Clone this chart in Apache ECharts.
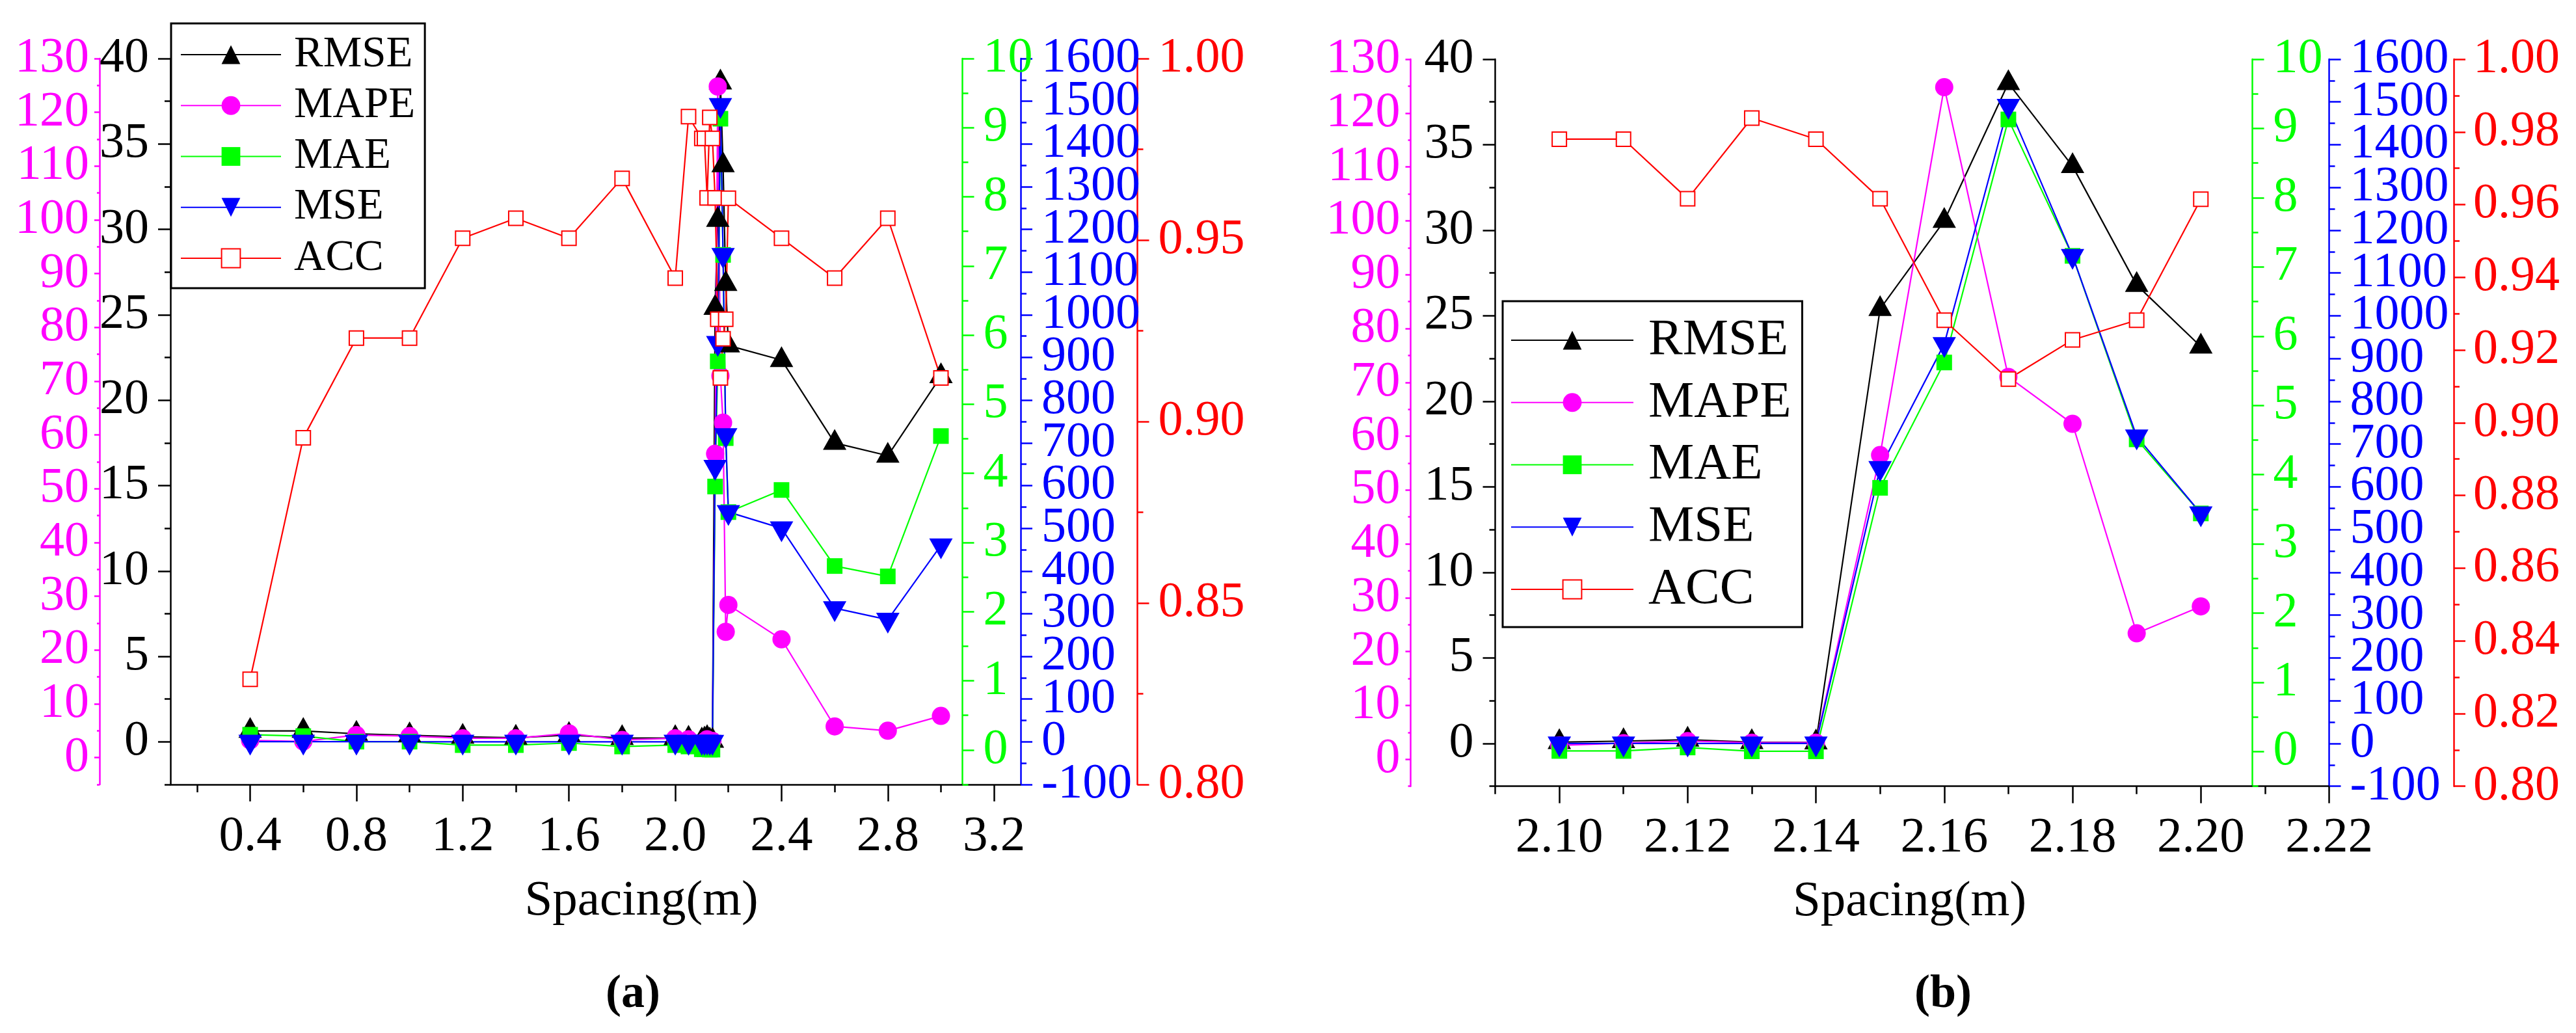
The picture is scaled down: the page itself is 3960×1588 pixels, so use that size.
<!DOCTYPE html>
<html>
<head>
<meta charset="utf-8">
<script src="https://cdn.jsdelivr.net/npm/echarts@6/dist/echarts.min.js"></script>
<style>html,body{margin:0;padding:0;background:#fff}#c{width:3960px;height:1588px}</style>
</head>
<body>
<div id="c"></div>
<script>
// ---------------- DATA ----------------
// Panel (a)
const spacingA = [0.4, 0.6, 0.8, 1.0, 1.2, 1.4, 1.6, 1.8, 2.0, 2.05, 2.10, 2.11, 2.12, 2.13, 2.14, 2.15, 2.16, 2.17, 2.18, 2.19, 2.20, 2.4, 2.6, 2.8, 3.0];
const rmseA = [0.64, 0.64, 0.47, 0.38, 0.30, 0.24, 0.40, 0.22, 0.22, 0.18, 0.08, 0.14, 0.22, 0.08, 0.06, 25.4, 30.55, 38.6, 33.75, 26.8, 23.2, 22.35, 17.5, 16.75, 21.4];
const mapeA = [3.2, 3.0, 4.2, 4.0, 3.6, 3.6, 4.5, 3.3, 3.6, 3.4, 2.6, 3.0, 3.4, 3.1, 3.1, 56.5, 124.8, 71.0, 62.3, 23.4, 28.4, 22.0, 5.8, 5.0, 7.75];
const maeA = [0.22, 0.20, 0.12, 0.12, 0.07, 0.07, 0.10, 0.05, 0.07, 0.05, 0.01, 0.01, 0.06, 0.005, 0.005, 3.81, 5.62, 9.13, 7.16, 4.51, 3.44, 3.76, 2.66, 2.51, 4.54];
const mseA = [0.41, 0.41, 0.22, 0.14, 0.09, 0.06, 0.16, 0.05, 0.05, 0.03, 0.006, 0.02, 0.05, 0.006, 0.004, 644, 934, 1491, 1140, 718, 538, 500, 313, 286, 460];
const accA = [0.829, 0.8955, 0.923, 0.923, 0.9505, 0.956, 0.9505, 0.967, 0.9395, 0.984, 0.978, 0.978, 0.9616, 0.9838, 0.978, 0.9616, 0.9282, 0.912, 0.9228, 0.9282, 0.9615, 0.9505, 0.9395, 0.956, 0.912];

// Panel (b)
const spacingB = [2.10, 2.11, 2.12, 2.13, 2.14, 2.15, 2.16, 2.17, 2.18, 2.19, 2.20];
const rmseB = [0.08, 0.14, 0.22, 0.08, 0.06, 25.4, 30.55, 38.6, 33.75, 26.8, 23.2];
const mapeB = [2.6, 3.0, 3.4, 3.1, 3.1, 56.5, 124.8, 71.0, 62.3, 23.4, 28.4];
const maeB = [0.01, 0.01, 0.06, 0.005, 0.005, 3.81, 5.62, 9.13, 7.16, 4.51, 3.44];
const mseB = [0.006, 0.02, 0.05, 0.006, 0.004, 644, 934, 1491, 1140, 718, 538];
const accB = [0.978, 0.978, 0.9616, 0.9838, 0.978, 0.9616, 0.9282, 0.912, 0.9228, 0.9282, 0.9615];

const seriesNames = ['RMSE', 'MAPE', 'MAE', 'MSE', 'ACC'];

// Tick values
const xTicksA = [0.4, 0.8, 1.2, 1.6, 2.0, 2.4, 2.8, 3.2];
const xMinorA = [0.2, 0.6, 1.0, 1.4, 1.8, 2.2, 2.6, 3.0];
const xTicksB = [2.10, 2.12, 2.14, 2.16, 2.18, 2.20, 2.22];
const xMinorB = [2.09, 2.11, 2.13, 2.15, 2.17, 2.19, 2.21];
const rmseTicks = [0, 5, 10, 15, 20, 25, 30, 35, 40];
const rmseMinor = [-2.5, 2.5, 7.5, 12.5, 17.5, 22.5, 27.5, 32.5, 37.5];
const mapeTicks = [0, 10, 20, 30, 40, 50, 60, 70, 80, 90, 100, 110, 120, 130];
const mapeMinor = [-5, 5, 15, 25, 35, 45, 55, 65, 75, 85, 95, 105, 115, 125];
const maeTicks = [0, 1, 2, 3, 4, 5, 6, 7, 8, 9, 10];
const maeMinor = [-0.5, 0.5, 1.5, 2.5, 3.5, 4.5, 5.5, 6.5, 7.5, 8.5, 9.5];
const mseTicks = [-100, 0, 100, 200, 300, 400, 500, 600, 700, 800, 900, 1000, 1100, 1200, 1300, 1400, 1500, 1600];
const mseMinor = [-50, 50, 150, 250, 350, 450, 550, 650, 750, 850, 950, 1050, 1150, 1250, 1350, 1450, 1550];
const accTicksA = [0.80, 0.85, 0.90, 0.95, 1.00];
const accMinorA = [0.825, 0.875, 0.925, 0.975];
const accTicksB = [0.80, 0.82, 0.84, 0.86, 0.88, 0.90, 0.92, 0.94, 0.96, 0.98, 1.00];
const accMinorB = [0.81, 0.83, 0.85, 0.87, 0.89, 0.91, 0.93, 0.95, 0.97, 0.99];

// ---------------- STYLE / LAYOUT ----------------
const FONT = 'Liberation Serif';
const C = { black: '#000000', pink: '#FF00FF', green: '#00FF00', blue: '#0000FF', red: '#FF0000' };
const AXW = 2.5;

const xAxes = [];
function addX(grid, min, max, majors, minors, fmt) {
  const idx = xAxes.length;
  xAxes.push({
    type: 'value', gridIndex: grid, position: 'bottom', min: min, max: max,
    axisLine: { show: true, onZero: false, lineStyle: { color: C.black, width: AXW } },
    axisTick: { show: true, inside: false, length: 26, customValues: majors, lineStyle: { color: C.black, width: AXW } },
    axisLabel: { show: true, customValues: majors, showMinLabel: true, showMaxLabel: true, hideOverlap: false,
      margin: 42, color: C.black, fontFamily: FONT, fontSize: 77, lineHeight: 77, formatter: fmt },
    splitLine: { show: false }, minorTick: { show: false }, minorSplitLine: { show: false }
  });
  xAxes.push({
    type: 'value', gridIndex: grid, position: 'bottom', min: min, max: max,
    axisLine: { show: false, onZero: false },
    axisTick: { show: true, inside: false, length: 12, customValues: minors, lineStyle: { color: C.black, width: AXW } },
    axisLabel: { show: false }, splitLine: { show: false }
  });
  return idx;
}

// Each y scale uses two stacked axes (same position): one draws the axis line,
// long ticks and every other label; the other draws short ticks and the
// remaining labels (so the dense labels are never auto-hidden).
const yAxes = [];
function addY(grid, pos, offset, min, max, majors, minors, color, fmt, len, mlen, margin) {
  const idx = yAxes.length;
  const labA = majors.filter((v, i) => i % 2 === 0);
  const labB = majors.filter((v, i) => i % 2 === 1);
  const lab = (vals) => ({ show: true, customValues: vals, showMinLabel: true, showMaxLabel: true, hideOverlap: false,
    margin: margin, color: color, fontFamily: FONT, fontSize: 76, lineHeight: 76, formatter: fmt });
  yAxes.push({
    type: 'value', gridIndex: grid, position: pos, offset: offset, min: min, max: max,
    axisLine: { show: true, onZero: false, lineStyle: { color: color, width: AXW } },
    axisTick: { show: true, inside: false, length: len, customValues: majors, lineStyle: { color: color, width: AXW } },
    axisLabel: lab(labA),
    splitLine: { show: false }, minorTick: { show: false }, minorSplitLine: { show: false }
  });
  yAxes.push({
    type: 'value', gridIndex: grid, position: pos, offset: offset, min: min, max: max,
    axisLine: { show: false, onZero: false },
    axisTick: { show: true, inside: false, length: mlen, customValues: minors, lineStyle: { color: color, width: AXW } },
    axisLabel: lab(labB), splitLine: { show: false }
  });
  return idx;
}

const f0 = v => String(Math.round(v));
const f1 = v => v.toFixed(1);
const f2 = v => v.toFixed(2);

// Panel (a) axes
const xa = addX(0, 0.1, 3.3, xTicksA, xMinorA, f1);
const ya = {
  rmse: addY(0, 'left', 0, -2.5, 40, rmseTicks, rmseMinor, C.black, f0, 19, 9, 33),
  mape: addY(0, 'left', 109, -5, 130, mapeTicks, mapeMinor, C.pink, f0, 8, 4, 16),
  mae: addY(0, 'right', -89.5, -0.5, 10, maeTicks, maeMinor, C.green, f0, 18, 9, 32),
  mse: addY(0, 'right', 0, -100, 1600, mseTicks, mseMinor, C.blue, f0, 18, 9, 32),
  acc: addY(0, 'right', 179.5, 0.8, 1.0, accTicksA, accMinorA, C.red, f2, 18, 9, 32)
};
// Panel (b) axes
const xb = addX(1, 2.09, 2.22, xTicksB, xMinorB, f2);
const yb = {
  rmse: addY(1, 'left', 0, -2.5, 40, rmseTicks, rmseMinor, C.black, f0, 19, 9, 33),
  mape: addY(1, 'left', 130, -5, 130, mapeTicks, mapeMinor, C.pink, f0, 8, 4, 16),
  mae: addY(1, 'right', -118, -0.5, 10, maeTicks, maeMinor, C.green, f0, 18, 9, 32),
  mse: addY(1, 'right', 0, -100, 1600, mseTicks, mseMinor, C.blue, f0, 18, 9, 32),
  acc: addY(1, 'right', 191.5, 0.8, 1.0, accTicksB, accMinorB, C.red, f2, 18, 9, 30)
};

const marks = {
  RMSE: { symbol: 'triangle', symbolSize: [36, 32], symbolOffset: [0, -5.3], symbolRotate: 0, color: C.black },
  MAPE: { symbol: 'circle', symbolSize: 28, symbolOffset: [0, 0], symbolRotate: 0, color: C.pink },
  MAE: { symbol: 'rect', symbolSize: 24, symbolOffset: [0, 0], symbolRotate: 0, color: C.green },
  MSE: { symbol: 'triangle', symbolSize: [36, 32], symbolOffset: [0, 5.3], symbolRotate: 180, color: C.blue },
  ACC: { symbol: 'emptyRect', symbolSize: 22, symbolOffset: [0, 0], symbolRotate: 0, color: C.red }
};

function mk(name, xIdx, yIdx, xs, ys) {
  const m = marks[name];
  return {
    type: 'line', name: name, xAxisIndex: xIdx, yAxisIndex: yIdx,
    data: xs.map((x, i) => [x, ys[i]]),
    symbol: m.symbol, symbolSize: m.symbolSize, symbolOffset: m.symbolOffset, symbolRotate: m.symbolRotate,
    showSymbol: true, showAllSymbol: true, clip: false,
    itemStyle: { color: m.color },
    lineStyle: { color: m.color, width: 2.2 },
    emphasis: { disabled: true }, animation: false
  };
}

const series = [
  mk('RMSE', xa, ya.rmse, spacingA, rmseA),
  mk('MAPE', xa, ya.mape, spacingA, mapeA),
  mk('MAE', xa, ya.mae, spacingA, maeA),
  mk('MSE', xa, ya.mse, spacingA, mseA),
  mk('ACC', xa, ya.acc, spacingA, accA),
  mk('RMSE', xb, yb.rmse, spacingB, rmseB),
  mk('MAPE', xb, yb.mape, spacingB, mapeB),
  mk('MAE', xb, yb.mae, spacingB, maeB),
  mk('MSE', xb, yb.mse, spacingB, mseB),
  mk('ACC', xb, yb.acc, spacingB, accB)
];

const legendCommon = {
  data: seriesNames, orient: 'vertical', itemHeight: 36, selectedMode: false,
  borderColor: C.black, borderWidth: 3, backgroundColor: '#fff', borderRadius: 0, symbolRotate: 'inherit'
};

const option = {
  animation: false,
  backgroundColor: '#fff',
  textStyle: { fontFamily: FONT },
  grid: [
    { left: 262, top: 90, width: 1307, height: 1116, outerBoundsMode: 'none', containLabel: false },
    { left: 2298.5, top: 91, width: 1282, height: 1117.7, outerBoundsMode: 'none', containLabel: false }
  ],
  xAxis: xAxes,
  yAxis: yAxes,
  legend: [
    Object.assign({}, legendCommon, {
      left: 263, top: 36, itemWidth: 154, itemGap: 11.25, padding: [14.5, 15, 12.5, 14],
      textStyle: { fontFamily: FONT, fontSize: 67, color: C.black, padding: [0, 0, 0, 15] }
    }),
    Object.assign({}, legendCommon, {
      left: 2310, top: 463, itemWidth: 188, itemGap: 16.75, padding: [20.5, 17, 18.5, 12],
      textStyle: { fontFamily: FONT, fontSize: 79, color: C.black, padding: [0, 0, 0, 18] }
    })
  ],
  graphic: [
    { type: 'text', x: 986, y: 1386, style: { text: 'Spacing(m)', fontFamily: FONT, fontSize: 77, fill: C.black, align: 'center', verticalAlign: 'middle' } },
    { type: 'text', x: 2935.5, y: 1387, style: { text: 'Spacing(m)', fontFamily: FONT, fontSize: 77, fill: C.black, align: 'center', verticalAlign: 'middle' } },
    { type: 'text', x: 973, y: 1529, style: { text: '(a)', fontFamily: FONT, fontSize: 72, fontWeight: 'bold', fill: C.black, align: 'center', verticalAlign: 'middle' } },
    { type: 'text', x: 2987, y: 1529, style: { text: '(b)', fontFamily: FONT, fontSize: 72, fontWeight: 'bold', fill: C.black, align: 'center', verticalAlign: 'middle' } }
  ],
  series: series
};

const chart = echarts.init(document.getElementById('c'), null, { renderer: 'canvas', width: 3960, height: 1588 });
chart.setOption(option);
</script>
</body>
</html>
